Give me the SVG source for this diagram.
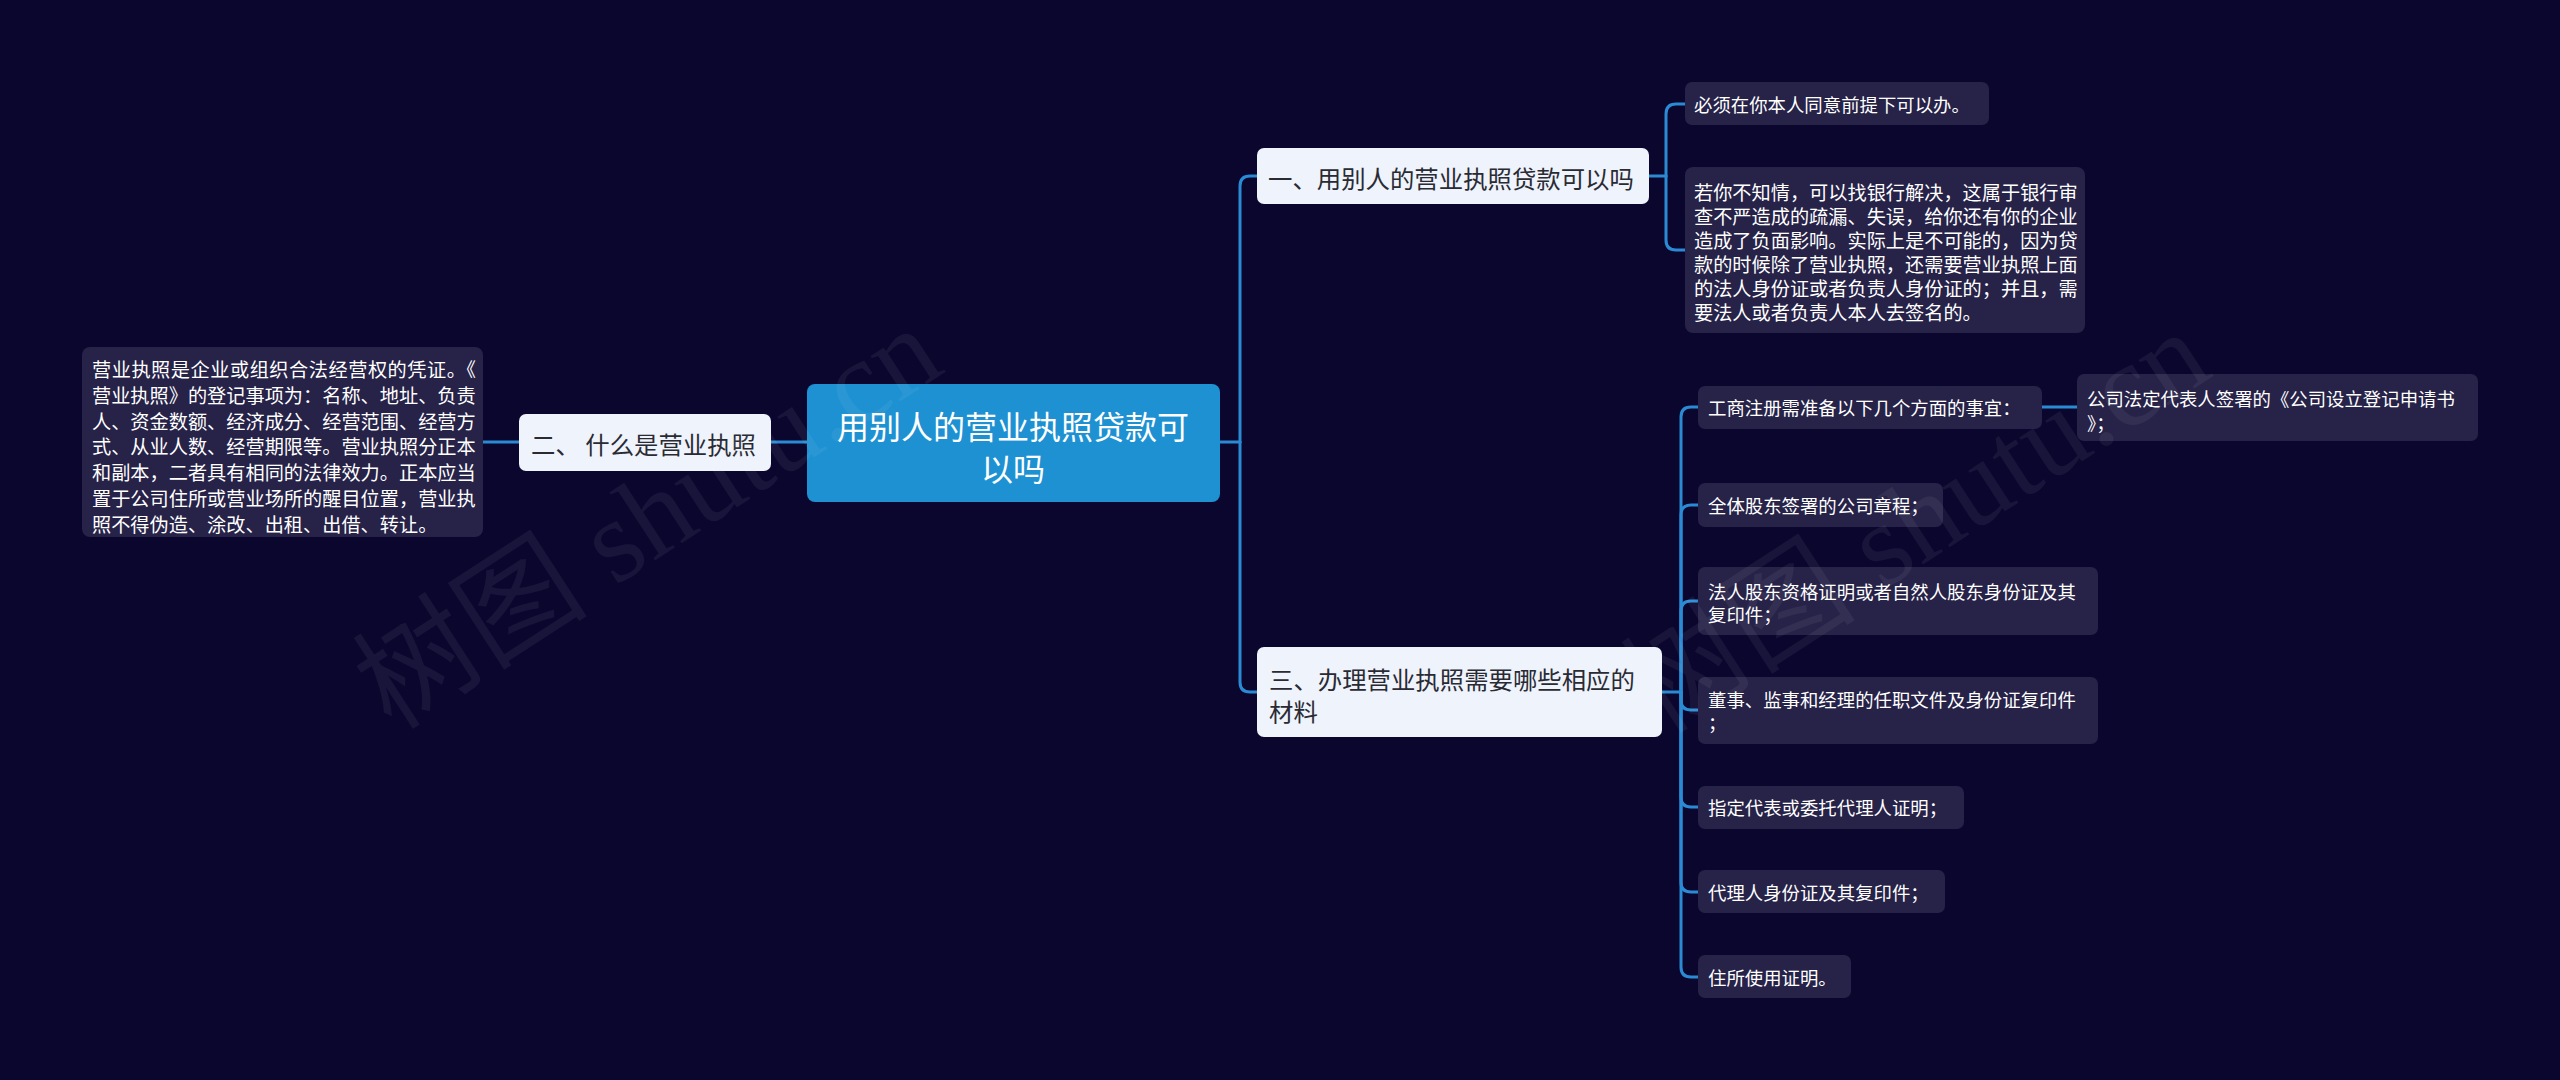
<svg xmlns="http://www.w3.org/2000/svg" width="2560" height="1080" viewBox="0 0 2560 1080">
<style>
.bg{fill:#0b062e}
.leaf{fill:#262248}
.branch{fill:#eef3fc}
.root{fill:#1d91d2}
.lt{font-family:"Noto Sans CJK SC","Noto Sans",sans-serif;fill:#ffffff;font-size:18.4px;dominant-baseline:central}
.lt2{font-family:"Noto Sans CJK SC","Noto Sans",sans-serif;fill:#ffffff;font-size:19.2px;dominant-baseline:central}
.bt{font-family:"Noto Sans CJK SC","Noto Sans",sans-serif;fill:#2a2a33;font-size:24.4px;dominant-baseline:central}
.rt{font-family:"Noto Sans CJK SC","Noto Sans",sans-serif;fill:#ffffff;font-size:32px;dominant-baseline:central;text-anchor:middle}
.con{fill:none;stroke:#2a8bd4;stroke-width:3;stroke-linecap:round}
.wm{font-family:"Liberation Serif","Noto Sans CJK SC",serif;font-size:118px;fill:#ffffff;fill-opacity:0.06}
</style>
<rect class="bg" x="0" y="0" width="2560" height="1080"/>

<g id="connectors">
  <path class="con" d="M807,442 L771,442"/>
  <path class="con" d="M519,442 L483,442"/>
  <path class="con" d="M1220,442 L1240,442"/>
  <path class="con" d="M1240,442 L1240,186 Q1240,176 1250,176 L1257,176"/>
  <path class="con" d="M1240,442 L1240,682 Q1240,692 1250,692 L1257,692"/>
  <path class="con" d="M1649,176 L1666,176"/>
  <path class="con" d="M1666,176 L1666,114 Q1666,104 1676,104 L1685,104"/>
  <path class="con" d="M1666,176 L1666,240 Q1666,250 1676,250 L1685,250"/>
  <path class="con" d="M1662,692 L1681,692"/>
  <path class="con" d="M1681,692 L1681,417 Q1681,407 1691,407 L1698,407"/>
  <path class="con" d="M1681,692 L1681,515 Q1681,505 1691,505 L1698,505"/>
  <path class="con" d="M1681,692 L1681,611 Q1681,601 1691,601 L1698,601"/>
  <path class="con" d="M1681,692 L1681,700 Q1681,710 1691,710 L1698,710"/>
  <path class="con" d="M1681,692 L1681,797 Q1681,807 1691,807 L1698,807"/>
  <path class="con" d="M1681,692 L1681,882 Q1681,892 1691,892 L1698,892"/>
  <path class="con" d="M1681,692 L1681,967 Q1681,977 1691,977 L1698,977"/>
  <path class="con" d="M2042,407 L2077,407"/>
</g>

<g id="root">
  <rect class="root" x="807" y="384" width="413" height="118" rx="8"/>
  <text class="rt" x="1013" y="425">用别人的营业执照贷款可</text>
  <text class="rt" x="1013" y="467">以吗</text>
</g>

<g id="n2">
  <rect class="branch" x="519" y="414" width="252" height="57" rx="7"/>
  <text class="bt" x="531" y="443" xml:space="preserve">二、 什么是营业执照</text>
</g>

<g id="n2-leaf">
  <rect class="leaf" x="82" y="347" width="401" height="190" rx="8"/>
  <text class="lt2" x="92" y="369" textLength="384" lengthAdjust="spacing">营业执照是企业或组织合法经营权的凭证。《</text>
  <text class="lt2" x="92" y="395">营业执照》的登记事项为：名称、地址、负责</text>
  <text class="lt2" x="92" y="421">人、资金数额、经济成分、经营范围、经营方</text>
  <text class="lt2" x="92" y="446">式、从业人数、经营期限等。营业执照分正本</text>
  <text class="lt2" x="92" y="472">和副本，二者具有相同的法律效力。正本应当</text>
  <text class="lt2" x="92" y="498">置于公司住所或营业场所的醒目位置，营业执</text>
  <text class="lt2" x="92" y="524">照不得伪造、涂改、出租、出借、转让。</text>
</g>

<g id="n1">
  <rect class="branch" x="1257" y="148" width="392" height="56" rx="7"/>
  <text class="bt" x="1268" y="177">一、用别人的营业执照贷款可以吗</text>
</g>

<g id="n1-a">
  <rect class="leaf" x="1685" y="82" width="304" height="43" rx="7"/>
  <text class="lt" x="1694" y="104">必须在你本人同意前提下可以办。</text>
</g>

<g id="n1-b">
  <rect class="leaf" x="1685" y="167" width="400" height="166" rx="8"/>
  <text class="lt2" x="1694" y="192">若你不知情，可以找银行解决，这属于银行审</text>
  <text class="lt2" x="1694" y="216">查不严造成的疏漏、失误，给你还有你的企业</text>
  <text class="lt2" x="1694" y="240">造成了负面影响。实际上是不可能的，因为贷</text>
  <text class="lt2" x="1694" y="264">款的时候除了营业执照，还需要营业执照上面</text>
  <text class="lt2" x="1694" y="288">的法人身份证或者负责人身份证的；并且，需</text>
  <text class="lt2" x="1694" y="312">要法人或者负责人本人去签名的。</text>
</g>

<g id="n3">
  <rect class="branch" x="1257" y="647" width="405" height="90" rx="7"/>
  <text class="bt" x="1269" y="678">三、办理营业执照需要哪些相应的</text>
  <text class="bt" x="1269" y="710">材料</text>
</g>

<g id="n3-c1">
  <rect class="leaf" x="1698" y="386" width="344" height="43" rx="7"/>
  <text class="lt" x="1708" y="407">工商注册需准备以下几个方面的事宜：</text>
</g>

<g id="n3-c1a">
  <rect class="leaf" x="2077" y="374" width="401" height="67" rx="7"/>
  <text class="lt" x="2087" y="398">公司法定代表人签署的《公司设立登记申请书</text>
  <text class="lt" x="2087" y="422">》；</text>
</g>

<g id="n3-c2">
  <rect class="leaf" x="1698" y="483" width="245" height="44" rx="7"/>
  <text class="lt" x="1708" y="505">全体股东签署的公司章程；</text>
</g>

<g id="n3-c3">
  <rect class="leaf" x="1698" y="567" width="400" height="68" rx="7"/>
  <text class="lt" x="1708" y="591">法人股东资格证明或者自然人股东身份证及其</text>
  <text class="lt" x="1708" y="614">复印件；</text>
</g>

<g id="n3-c4">
  <rect class="leaf" x="1698" y="677" width="400" height="67" rx="7"/>
  <text class="lt" x="1708" y="699">董事、监事和经理的任职文件及身份证复印件</text>
  <text class="lt" x="1708" y="722">；</text>
</g>

<g id="n3-c5">
  <rect class="leaf" x="1698" y="786" width="266" height="43" rx="7"/>
  <text class="lt" x="1708" y="807">指定代表或委托代理人证明；</text>
</g>

<g id="n3-c6">
  <rect class="leaf" x="1698" y="870" width="247" height="43" rx="7"/>
  <text class="lt" x="1708" y="892">代理人身份证及其复印件；</text>
</g>

<g id="n3-c7">
  <rect class="leaf" x="1698" y="955" width="153" height="43" rx="7"/>
  <text class="lt" x="1708" y="977">住所使用证明。</text>
</g>

<g id="watermark">
  <text class="wm" x="648" y="518" text-anchor="middle" dominant-baseline="central" transform="rotate(-33 648 518)">树图 shutu.cn</text>
  <text class="wm" x="1916" y="522" text-anchor="middle" dominant-baseline="central" transform="rotate(-33 1916 522)">树图 shutu.cn</text>
</g>
</svg>
